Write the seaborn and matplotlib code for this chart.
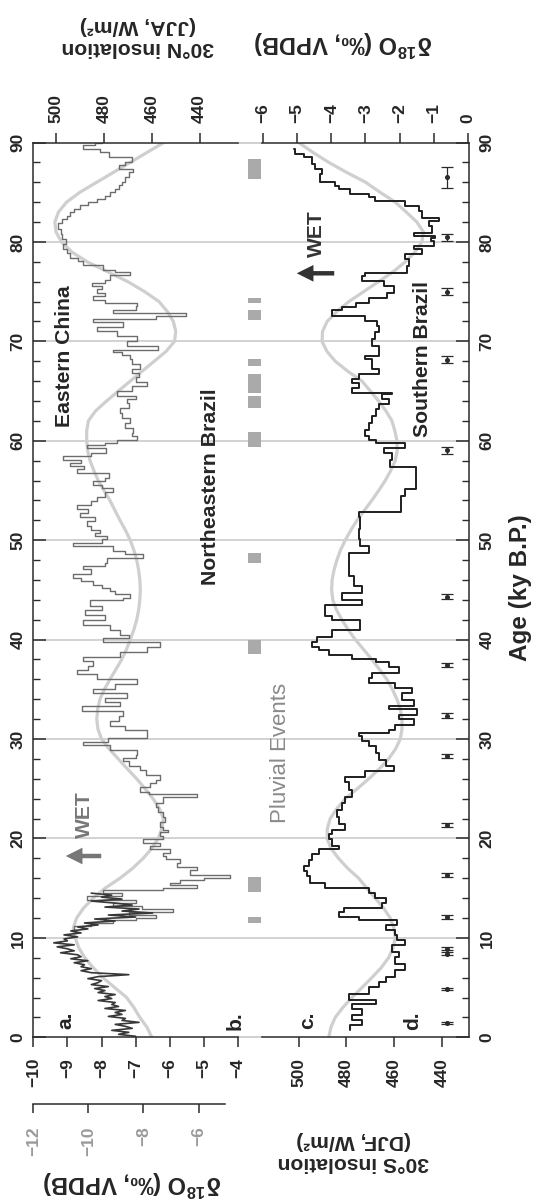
import numpy as np
import pandas as pd
import matplotlib
matplotlib.use("Agg")
import matplotlib.pyplot as plt
from matplotlib.patches import FancyArrowPatch
from matplotlib.ticker import MultipleLocator
import seaborn as sns

# ---------------------------------------------------------------- records
# Eastern China speleothem d18O (permil VPDB): dense Holocene/deglacial part
china_dark = [
    (0.1, -7.0), (0.3, -7.5), (0.5, -7.2), (0.7, -7.7), (0.9, -7.1), (1.1, -7.3),
    (1.3, -7.6), (1.5, -6.9), (1.7, -7.4), (1.9, -7.3), (2.1, -7.8), (2.3, -7.4),
    (2.5, -7.6), (2.7, -7.3), (2.9, -7.9), (3.1, -7.5), (3.3, -7.7), (3.5, -7.6),
    (3.7, -8.1), (3.9, -7.7), (4.1, -7.9), (4.3, -7.6), (4.5, -8.1), (4.7, -7.9),
    (4.9, -8.2), (5.1, -7.8), (5.3, -8.3), (5.5, -8.1), (5.7, -8.0), (5.9, -8.4),
    (6.1, -8.1), (6.3, -7.2), (6.5, -8.3), (6.7, -8.6), (6.9, -8.3), (7.1, -8.6),
    (7.3, -8.5), (7.5, -8.8), (7.7, -8.4), (7.9, -8.9), (8.1, -8.6), (8.3, -8.7),
    (8.5, -9.2), (8.7, -8.8), (8.9, -9.0), (9.1, -9.3), (9.3, -8.8), (9.5, -9.4),
    (9.7, -9.0), (9.9, -9.1), (10.1, -8.7), (10.3, -9.1), (10.5, -8.6), (10.7, -8.9),
    (10.9, -8.4), (11.1, -8.7), (11.3, -8.1), (11.5, -8.5), (11.7, -7.6), (11.9, -8.2),
    (12.1, -7.0), (12.3, -7.8), (12.5, -6.5), (12.7, -7.4), (12.9, -6.9), (13.1, -7.9),
    (13.3, -7.1), (13.5, -7.6), (13.7, -8.3), (13.9, -7.4), (14.1, -8.0), (14.3, -7.7),
    (14.5, -8.3),
]
# Eastern China composite, last glacial part
china_gray = [
    (10.8, -8.8), (11.2, -8.3), (11.5, -7.66), (11.8, -7.0), (12.0, -6.39), (12.3, -7.2),
    (12.6, -5.9), (12.9, -6.8), (13.2, -7.66), (13.5, -7.0), (13.8, -8.43), (14.2, -7.4),
    (14.5, -7.95), (14.8, -6.2), (15.0, -5.21), (15.3, -6.0), (15.5, -5.7), (15.8, -5.0),
    (16.0, -4.23), (16.3, -5.4), (16.8, -5.21), (17.1, -5.8), (17.5, -5.7), (17.9, -6.1),
    (18.2, -6.19), (18.5, -6.0), (18.9, -6.58), (19.2, -6.3), (19.5, -6.77), (19.9, -6.2),
    (20.2, -6.3), (20.6, -6.05), (20.9, -6.19), (21.2, -6.29), (21.7, -6.15), (22.2, -6.19),
    (22.7, -6.35), (23.2, -6.39), (23.6, -6.2), (23.9, -6.19), (24.2, -5.21), (24.5, -6.6),
    (24.7, -6.87), (25.2, -6.58), (25.6, -6.4), (25.9, -6.29), (26.4, -6.7), (26.9, -6.87),
    (27.3, -7.2), (27.8, -7.36), (28.1, -7.0), (28.4, -6.97), (28.9, -7.75), (29.4, -8.53),
    (29.7, -7.8), (30.1, -6.68), (30.6, -6.68), (30.9, -7.3), (31.3, -7.75), (31.8, -7.5),
    (32.3, -7.36), (32.8, -8.58), (33.3, -7.46), (33.7, -7.9), (34.1, -7.26), (34.6, -8.24),
    (35.0, -7.6), (35.5, -6.97), (36.0, -8.14), (36.5, -8.73), (36.9, -8.4), (37.3, -8.24),
    (37.8, -8.53), (38.3, -7.46), (38.8, -6.68), (39.3, -6.29), (39.8, -7.95), (40.2, -7.2),
    (40.5, -7.46), (41.0, -7.75), (41.5, -8.53), (42.0, -7.9), (42.5, -8.48), (43.0, -8.0),
    (43.4, -8.34), (44.0, -7.36), (44.2, -7.16), (44.6, -7.6), (44.9, -7.75), (45.2, -8.0),
    (45.5, -8.24), (45.9, -8.6), (46.2, -8.83), (46.6, -8.3), (47.1, -8.53), (47.4, -7.9),
    (47.7, -7.85), (48.2, -6.78), (48.6, -7.3), (48.9, -7.66), (49.4, -8.83), (49.7, -8.0),
    (50.1, -7.85), (50.4, -8.2), (50.7, -8.04), (51.0, -8.3), (51.4, -8.43), (51.9, -8.2),
    (52.3, -8.63), (52.7, -8.4), (53.1, -8.73), (53.5, -8.3), (53.9, -8.14), (54.3, -7.9),
    (54.8, -7.66), (55.2, -8.0), (55.6, -8.24), (56.0, -7.9), (56.3, -7.77), (56.8, -8.73),
    (57.2, -8.5), (57.5, -8.92), (57.8, -8.6), (58.1, -9.12), (58.5, -8.3), (58.8, -7.87),
    (59.3, -8.44), (59.6, -7.9), (59.8, -7.56), (60.1, -6.97), (60.5, -7.1), (60.8, -7.07),
    (61.3, -7.3), (61.8, -7.16), (62.3, -7.4), (62.8, -7.46), (63.3, -7.2), (63.8, -7.26),
    (64.2, -7.0), (64.5, -7.56), (65.0, -7.1), (65.5, -6.68), (65.9, -7.0), (66.4, -6.9),
    (66.8, -7.1), (67.2, -6.87), (67.7, -7.1), (68.2, -7.16), (68.6, -7.4), (68.9, -7.66),
    (69.1, -6.35), (69.5, -7.26), (70.0, -6.97), (70.5, -7.56), (71.0, -8.14), (71.4, -7.36),
    (71.9, -8.24), (72.2, -6.39), (72.5, -5.51), (72.9, -7.66), (73.2, -7.0), (73.6, -6.97),
    (73.9, -7.9), (74.2, -8.24), (74.6, -7.9), (74.9, -8.14), (75.3, -8.0), (75.6, -8.29),
    (75.9, -7.9), (76.2, -7.75), (76.7, -7.16), (77.0, -7.6), (77.2, -7.95), (77.7, -8.53),
    (78.1, -8.7), (78.4, -8.92), (78.9, -9.0), (79.3, -9.12), (79.8, -9.05), (80.3, -9.17),
    (80.8, -9.2), (81.3, -9.27), (81.9, -9.17), (82.3, -9.0), (82.6, -8.92), (83.0, -8.8),
    (83.3, -8.63), (83.7, -8.4), (84.0, -8.14), (84.3, -7.9), (84.6, -7.75), (85.0, -7.6),
    (85.3, -7.5), (85.7, -7.4), (86.0, -7.31), (86.5, -7.2), (87.0, -7.07), (87.3, -7.48),
    (87.7, -7.3), (88.0, -7.12), (88.5, -7.77), (89.0, -8.04), (89.3, -8.53), (89.7, -8.2),
    (90.0, -7.99),
]
# Southern Brazil speleothem d18O (permil VPDB)
brazil = [
    (0.7, -3.44), (1.2, -3.1), (1.7, -3.39), (2.2, -3.1), (2.8, -3.39), (3.3, -2.7),
    (3.8, -3.49), (4.4, -2.9), (5.1, -2.61), (5.6, -2.41), (6.1, -2.12), (6.8, -1.83),
    (7.4, -2.12), (8.1, -2.02), (8.6, -2.22), (9.3, -1.83), (9.8, -2.07), (10.3, -2.12),
    (10.8, -2.41), (11.3, -2.07), (11.8, -3.19), (12.1, -3.78), (12.6, -3.63), (13.0, -2.51),
    (13.5, -2.41), (14.0, -2.71), (14.5, -2.9), (15.0, -4.17), (15.5, -4.61), (16.2, -4.71),
    (16.7, -4.81), (17.2, -4.66), (17.8, -4.56), (18.4, -4.37), (18.9, -3.78), (19.2, -3.98),
    (19.9, -4.07), (20.4, -3.98), (20.9, -3.59), (21.5, -3.78), (22.2, -3.83), (22.9, -3.68),
    (23.6, -3.59), (24.2, -3.39), (24.9, -3.49), (25.7, -3.59), (26.2, -3.0), (26.8, -2.17),
    (27.3, -2.41), (27.9, -2.6), (28.6, -2.7), (29.3, -2.9), (29.8, -3.1), (30.3, -3.19),
    (30.6, -2.31), (30.9, -2.12), (31.4, -1.58), (32.0, -2.02), (32.4, -1.48), (33.0, -2.31),
    (33.3, -1.58), (33.9, -1.92), (34.6, -1.63), (35.1, -2.12), (35.6, -2.9), (36.1, -2.8),
    (36.6, -2.02), (37.2, -2.31), (37.7, -2.7), (38.0, -3.39), (38.5, -4.07), (39.0, -4.37),
    (39.3, -4.56), (39.8, -4.42), (40.3, -3.98), (41.0, -3.15), (41.5, -3.15), (42.0, -3.98),
    (42.4, -4.17), (43.0, -4.17), (43.5, -3.1), (44.0, -3.68), (44.7, -3.1), (45.4, -3.34),
    (46.4, -3.49), (47.7, -3.49), (48.7, -2.9), (49.4, -3.15), (50.1, -3.19), (51.1, -3.15),
    (52.3, -3.19), (52.8, -1.97), (53.6, -1.97), (54.4, -1.83), (55.1, -1.53), (56.4, -1.53),
    (57.4, -2.27), (58.1, -2.22), (58.8, -2.46), (59.3, -1.83), (59.8, -2.7), (60.1, -2.9),
    (60.5, -3.0), (61.1, -2.9), (61.8, -2.8), (62.5, -2.7), (63.2, -2.61), (63.7, -2.31),
    (64.2, -2.51), (64.7, -2.22), (64.8, -3.39), (65.3, -3.19), (65.8, -3.39), (66.2, -3.19),
    (66.7, -2.61), (67.2, -2.8), (67.5, -2.8), (68.2, -3.0), (68.5, -2.6), (69.5, -2.8),
    (70.2, -2.71), (70.9, -2.61), (71.5, -2.66), (72.0, -3.0), (72.5, -3.98), (73.2, -3.68),
    (73.5, -3.29), (73.9, -2.9), (74.4, -2.36), (74.9, -2.17), (75.6, -2.46), (76.1, -3.1),
    (76.6, -3.0), (76.9, -1.78), (77.6, -1.73), (78.3, -1.83), (78.8, -1.34), (79.3, -1.58),
    (79.6, -1.0), (80.1, -1.09), (80.4, -0.95), (80.6, -1.58), (80.9, -1.04), (81.6, -1.14),
    (82.1, -0.85), (82.4, -1.34), (83.1, -1.44), (83.6, -1.83), (84.1, -2.71), (84.5, -2.9),
    (84.8, -3.44), (85.3, -3.78), (85.6, -3.88), (86.0, -4.32), (86.8, -4.27), (87.3, -4.47),
    (87.8, -4.56), (88.5, -4.81), (88.8, -5.05), (89.3, -5.1),
]

# Orbital insolation (W/m2), one value per ky from 0 to 90 ka
ins_age = list(range(0, 91))
ins_30n_jja = [
    460, 462, 465, 467.5, 470.5, 475.5, 480.4, 484.5, 488, 490.5,
    492, 492.8, 491.4, 488.5, 484.5, 479.5, 473.3, 468, 463.6, 460,
    457.3, 455.8, 455.2, 456.8, 459.5, 462.8, 466.3, 470.2, 474, 477.8,
    481, 482.5, 483, 482.6, 481.7, 479.8, 477.5, 475, 472.6, 470.6,
    469, 467.5, 466.3, 465.5, 465, 464.8, 465, 465.5, 466.3, 467.5,
    469, 471, 473.3, 475.4, 477.5, 480, 482.4, 484.2, 485.8, 486.8,
    487.2, 487.2, 486.5, 483.5, 478.9, 474, 469, 464, 459, 454,
    450.5, 450, 451, 453.5, 457, 463, 470, 478.5, 487, 493.5,
    497.7, 500, 500.5, 499, 495.6, 490, 483, 476, 469, 462,
    455,
]
ins_30s_djf = [
    487.4, 486.5, 484.7, 481.5, 477.7, 473.5, 469.4, 465.5, 462.4, 460.5,
    459.6, 460.2, 461.7, 464.5, 468, 471.5, 474.9, 479.5, 483.3, 486.5,
    488.1, 488, 486.8, 484, 480.5, 475.5, 470.7, 466.3, 462.4, 459.5,
    457.5, 456.8, 456.8, 457.5, 458.9, 460.8, 463.1, 466.2, 469.4, 472.8,
    476.3, 479.3, 481.9, 484.2, 485.7, 486.2, 486, 485.2, 484, 482.5,
    480.5, 478.2, 475.6, 472.5, 469.4, 466.5, 463.8, 461.5, 459.6, 458.8,
    458.9, 459.8, 461, 463.5, 466.6, 470, 473.5, 479.5, 484.7, 488.2,
    490.2, 490, 488.1, 484, 479, 472.8, 466.6, 460.5, 455.4, 451.3,
    448.5, 447.8, 450.6, 455, 459.6, 466, 472, 480, 487.4, 494,
    500,
]

# Pluvial events in northeastern Brazil (ka)
pluvial_start = [86.3, 73.9, 72.1, 67.5, 64.8, 63.3, 59.4, 47.7, 38.6, 14.6, 11.5]
pluvial_end = [88.3, 74.4, 73.2, 68.2, 66.7, 64.5, 60.9, 48.7, 40.0, 16.1, 12.1]

# U/Th dates with 2-sigma errors (ka)
dating_age = [1.4, 4.9, 8.4, 8.9, 12.1, 16.3, 21.4, 28.3, 32.35, 37.45, 44.3, 59.05, 68.15, 75.0, 80.45, 86.5]
dating_err = [0.1, 0.1, 0.15, 0.15, 0.2, 0.2, 0.2, 0.2, 0.25, 0.2, 0.25, 0.35, 0.35, 0.35, 0.35, 1.05]

age_ticks = list(range(0, 91, 10))
china_ticks = [-10, -9, -8, -7, -6, -5, -4]
china_alt_ticks = [-12, -10, -8, -6]
brazil_ticks = [-6, -5, -4, -3, -2, -1, 0]
ins_ticks = [440, 460, 480, 500]

# ---------------------------------------------------------------- styling
sns.set_style("white")
plt.rcParams["font.family"] = ["Liberation Sans", "DejaVu Sans"]
plt.rcParams["font.weight"] = "bold"
plt.rcParams["mathtext.fontset"] = "custom"
plt.rcParams["mathtext.rm"] = "Liberation Sans:bold"
plt.rcParams["mathtext.it"] = "Liberation Sans:bold"
plt.rcParams["mathtext.bf"] = "Liberation Sans:bold"
plt.rcParams["axes.unicode_minus"] = True

INK = "#2b2b2b"
GRID = "#d2d2d2"
INSOL = "#cfcfcf"
W, H, DPI = 533, 1203, 100
TOP, BOT = 142.5, 1037.3
TICK_FS = 12.5

fig = plt.figure(figsize=(W / DPI, H / DPI), dpi=DPI)


def box(x0, x1, y_top, y_bot):
    return [x0 / W, 1 - y_bot / H, (x1 - x0) / W, (y_bot - y_top) / H]


def put(x, y, s, **kw):
    kw.setdefault("ha", "center")
    kw.setdefault("va", "center")
    fig.text(x / W, 1 - y / H, s, **kw)


def arrow(x_tail, x_head, y, color):
    fig.add_artist(FancyArrowPatch(
        (x_tail / W, 1 - y / H), (x_head / W, 1 - y / H), transform=fig.transFigure,
        arrowstyle="simple,head_length=0.75,head_width=0.75,tail_width=0.2",
        mutation_scale=16, color=color, lw=0))


def record_line(ax, pairs, color, lw, steps=True):
    df = pd.DataFrame(pairs, columns=["age", "d18o"])
    kw = {"drawstyle": "steps-pre"} if steps else {}
    sns.lineplot(data=df, x="d18o", y="age", ax=ax, orient="y", sort=True,
                 estimator=None, color=color, linewidth=lw, legend=False, **kw)


def smooth_line(ax, values):
    df = pd.DataFrame({"age": ins_age, "ins": values})
    sns.lineplot(data=df, x="ins", y="age", ax=ax, orient="y", sort=True,
                 estimator=None, color=INSOL, linewidth=2.3, legend=False)


def age_axis(ax, side, pad):
    ax.set_ylim(0, 90)
    ax.yaxis.set_major_locator(MultipleLocator(10))
    ax.yaxis.set_minor_locator(MultipleLocator(2))
    if side == "left":
        ax.tick_params(axis="y", which="both", left=True, right=False,
                       labelleft=True, labelright=False)
    else:
        ax.tick_params(axis="y", which="both", left=False, right=True,
                       labelleft=False, labelright=True)
    ax.tick_params(axis="y", which="major", direction="in", length=9.4, width=1.1,
                   color=INK, labelsize=TICK_FS, labelrotation=90, pad=pad)
    ax.tick_params(axis="y", which="minor", direction="in", length=5, width=1.0, color=INK)
    for lab in ax.get_yticklabels():
        lab.set_va("center")


def grid_lines(ax):
    for a in age_ticks[1:-1]:
        ax.axhline(a, color=GRID, lw=1.4, zorder=0)


# ---------------------------------------------------------------- panels
ax_a = fig.add_axes(box(33.3, 238, TOP, BOT))
ax_b = fig.add_axes(box(238, 262, TOP, BOT))
ax_c = fig.add_axes(box(262, 468.5, TOP, BOT))
ax_a2 = ax_a.twiny()
ax_c2 = ax_c.twiny()
for base, twin in ((ax_a, ax_a2), (ax_c, ax_c2)):
    twin.set_zorder(0)
    base.set_zorder(1)
    base.patch.set_visible(False)
    for sp in twin.spines.values():
        sp.set_visible(False)

# panel a: Eastern China + 30N insolation
grid_lines(ax_a2)
smooth_line(ax_a2, ins_30n_jja)
record_line(ax_a, china_gray, "#6c6c6c", 1.0)
record_line(ax_a, china_dark, "#383838", 1.2, steps=False)
ax_a.set_xlim(-10, -4)
ax_a2.set_xlim(509.5, 424.0)
ax_a.set_xticks(china_ticks)
ax_a.tick_params(axis="x", which="both", bottom=True, top=False, labelbottom=True,
                 labeltop=False, direction="out", length=7.2, width=1.1, color=INK,
                 labelsize=TICK_FS, labelrotation=90, pad=7.7)
ax_a2.set_xticks(ins_ticks)
ax_a2.tick_params(axis="x", which="both", bottom=False, top=True, labelbottom=False,
                  labeltop=True, direction="out", length=7.2, width=1.1, color=INK,
                  labelsize=TICK_FS, labelrotation=90, pad=6.6)
age_axis(ax_a, "left", 5.6)
ax_a.spines["right"].set_visible(False)

# panel b: pluvial events
grid_lines(ax_b)
ax_b.barh(y=pluvial_start, width=0.56, left=0.4,
          height=np.array(pluvial_end) - np.array(pluvial_start),
          align="edge", color="#aaaaaa", linewidth=0)
ax_b.set_xlim(0, 1)
ax_b.set_ylim(0, 90)
ax_b.set_xticks([])
ax_b.set_yticks([])
ax_b.spines["left"].set_visible(False)
ax_b.spines["right"].set_visible(False)
ax_b.patch.set_visible(False)

# panel c/d: Southern Brazil + 30S insolation + dates
grid_lines(ax_c2)
smooth_line(ax_c2, ins_30s_djf)
record_line(ax_c, brazil, "#1f1f1f", 1.4)
ax_c.errorbar(x=np.full(len(dating_age), -0.6), y=dating_age, yerr=dating_err,
              fmt="o", ms=2.6, color=INK, ecolor=INK, elinewidth=0.9,
              capsize=4.5, capthick=0.9)
ax_c.set_xlim(-6.03, 0.02)
ax_c2.set_xlim(515.3, 429.0)
ax_c.set_xticks(brazil_ticks)
ax_c.tick_params(axis="x", which="both", bottom=False, top=True, labelbottom=False,
                 labeltop=True, direction="out", length=7.2, width=1.1, color=INK,
                 labelsize=TICK_FS, labelrotation=90, pad=6.6)
ax_c2.set_xticks(ins_ticks)
ax_c2.xaxis.set_ticks_position("bottom")
ax_c2.tick_params(axis="x", which="both", bottom=True, top=False, labelbottom=True,
                  labeltop=False, direction="out", length=7.2, width=1.1, color=INK,
                  labelsize=TICK_FS, labelrotation=90, pad=7.7)
age_axis(ax_c, "right", 8.0)
ax_c.spines["left"].set_visible(False)

for ax in (ax_a, ax_a2, ax_b, ax_c, ax_c2):
    ax.set_xlabel("")
    ax.set_ylabel("")
for ax in (ax_a, ax_c):
    for name, sp in ax.spines.items():
        sp.set_color(INK)
        sp.set_linewidth(1.1)
for name in ("top", "bottom"):
    ax_b.spines[name].set_color("#c4c4c4")
    ax_b.spines[name].set_linewidth(1.1)

# second d18O scale for the China records
ax_s = fig.add_axes(box(33.3, 225, 1103, 1104))
ax_s.set_xlim(-12, -5.04)
ax_s.set_xticks(china_alt_ticks)
ax_s.set_yticks([])
for name in ("top", "left", "right"):
    ax_s.spines[name].set_visible(False)
ax_s.spines["bottom"].set_color(INK)
ax_s.spines["bottom"].set_linewidth(1.1)
ax_s.patch.set_visible(False)
ax_s.tick_params(axis="x", bottom=True, top=False, direction="out", length=6.5,
                 width=1.1, color=INK, labelsize=TICK_FS, labelrotation=90, pad=9.8,
                 labelcolor="#9a9a9a")

# ---------------------------------------------------------------- text
d18o_label = r"$\delta^{18}$O (‰, VPDB)"
put(343.5, 43.3, d18o_label, fontsize=17, rotation=180)
put(137.7, 36.7, "30°N insolation\n(JJA, W/m²)", fontsize=15.2, rotation=180,
    multialignment="center")
put(132.6, 1183, d18o_label, fontsize=17, rotation=180)
put(353.7, 1151.5, "30°S insolation\n(DJF, W/m²)", fontsize=15.2, rotation=180,
    multialignment="center")
put(520, 588, "Age (ky B.P.)", fontsize=17.5, rotation=90)

put(64, 356, "Eastern China", fontsize=15.2, rotation=90)
put(210, 487, "Northeastern Brazil", fontsize=15.3, rotation=90)
put(422, 359, "Southern Brazil", fontsize=15.2, rotation=90)
put(280.5, 753, "Pluvial Events", fontsize=16, rotation=90, color="#8a8a8a",
    weight="normal")
put(84, 815, "WET", fontsize=15.1, rotation=90, color="#777777")
put(316, 234, "WET", fontsize=15.1, rotation=90, color="#333333")
arrow(104, 63, 856, "#777777")
arrow(337, 294, 273.3, "#333333")

for lab, x in (("a.", 66), ("b.", 234.7), ("c.", 308), ("d.", 412.5)):
    put(x, 1020.7, lab, fontsize=15, rotation=90)

fig.savefig("out.png", dpi=DPI)
